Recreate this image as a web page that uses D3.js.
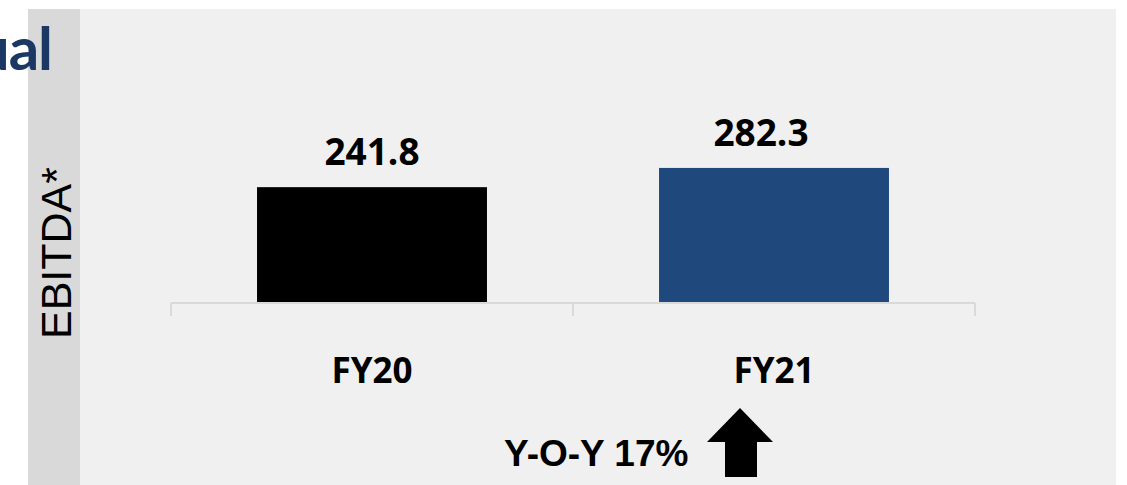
<!DOCTYPE html>
<html>
<head>
<meta charset="utf-8">
<script src="https://cdn.jsdelivr.net/npm/d3@7"></script>
<style>
  html, body { margin: 0; padding: 0; background: #ffffff; }
  svg { display: block; }
</style>
</head>
<body>
<div id="chart-div"></div>
<script>
// データ------------------------------------------------------------------
const categories = ['FY20', 'FY21'];
const values = [241.8, 282.3];
const valueLabels = ['241.8', '282.3'];
const barColors = ['#000000', '#1f497d'];
const axisTitle = 'EBITDA*';
const headerText = 'ual';
const yoyText = 'Y-O-Y 17%';

// SVG領域------------------------------------------------------------------
const width = 1127, height = 485;
const svg = d3.select('#chart-div')
  .append('svg')
  .attr('width', width)
  .attr('height', height);

// 背景
svg.append('rect')
  .attr('x', 28).attr('y', 9)
  .attr('width', 52).attr('height', height - 9)
  .attr('fill', '#d9d9d9');
svg.append('rect')
  .attr('x', 80).attr('y', 9)
  .attr('width', 1036).attr('height', height - 9)
  .attr('fill', '#f0f0f0');

// スケール
const baseY = 302;
const x = d3.scaleBand()
  .domain(categories)
  .range([171, 975])
  .paddingInner(0.428)
  .paddingOuter(0.214);
const y = d3.scaleLinear()
  .domain([0, 299])
  .range([baseY, 160]);

// 棒
svg.append('g')
  .selectAll('rect')
  .data(values)
  .enter()
  .append('rect')
  .attr('x', (d, i) => x(categories[i]))
  .attr('y', d => y(d))
  .attr('width', x.bandwidth())
  .attr('height', d => y(0) - y(d))
  .attr('fill', (d, i) => barColors[i]);

// 軸線と目盛り
const bounds = categories.map(c => x(c) - x.step() * x.paddingOuter());
bounds.push(x.range()[1]);
const axisG = svg.append('g').attr('stroke', '#d9d9d9').attr('stroke-width', 2);
axisG.append('line')
  .attr('x1', bounds[0]).attr('x2', bounds[bounds.length - 1])
  .attr('y1', baseY + 1).attr('y2', baseY + 1);
axisG.selectAll('.tick')
  .data(bounds)
  .enter()
  .append('line')
  .attr('x1', d => d).attr('x2', d => d)
  .attr('y1', baseY + 1).attr('y2', baseY + 14);

// 値ラベル
const labelShift = [0, -13];
svg.append('g')
  .selectAll('text')
  .data(values)
  .enter()
  .append('text')
  .attr('x', (d, i) => x(categories[i]) + x.bandwidth() / 2 + labelShift[i])
  .attr('y', d => y(d) - 22)
  .attr('text-anchor', 'middle')
  .attr('font-family', '"Open Sans", sans-serif')
  .attr('font-weight', 'bold')
  .attr('font-size', '37px')
  .attr('fill', '#000')
  .text((d, i) => valueLabels[i]);

// カテゴリラベル
svg.append('g')
  .selectAll('text')
  .data(categories)
  .enter()
  .append('text')
  .attr('x', d => x(d) + x.bandwidth() / 2)
  .attr('y', 383)
  .attr('text-anchor', 'middle')
  .attr('font-family', '"Open Sans", sans-serif')
  .attr('font-weight', 'bold')
  .attr('font-size', '35px')
  .attr('fill', '#000')
  .text(d => d);

// 縦軸タイトル
svg.append('text')
  .attr('transform', 'translate(71,253) rotate(-90)')
  .attr('text-anchor', 'middle')
  .attr('font-family', '"Liberation Sans", Arial, sans-serif')
  .attr('font-size', '43px')
  .attr('fill', '#000')
  .text(axisTitle);

// 見出し(左端で切れている)
svg.append('text')
  .attr('x', 52)
  .attr('y', 70)
  .attr('text-anchor', 'end')
  .attr('font-family', 'Lato, sans-serif')
  .attr('font-weight', 'bold')
  .attr('font-size', '60px')
  .attr('letter-spacing', '-1px')
  .attr('fill', '#1b3764')
  .text(headerText);

// 前年比
svg.append('text')
  .attr('x', 504)
  .attr('y', 466)
  .attr('font-family', '"Liberation Sans", Arial, sans-serif')
  .attr('font-weight', 'bold')
  .attr('font-size', '37px')
  .attr('fill', '#000')
  .text(yoyText);

// 矢印
const arrow = d3.path();
arrow.moveTo(740, 408);
arrow.lineTo(773, 442);
arrow.lineTo(757, 442);
arrow.lineTo(757, 477);
arrow.lineTo(725, 477);
arrow.lineTo(725, 442);
arrow.lineTo(707, 442);
arrow.closePath();
svg.append('path')
  .attr('d', arrow.toString())
  .attr('fill', '#000');
</script>
</body>
</html>
